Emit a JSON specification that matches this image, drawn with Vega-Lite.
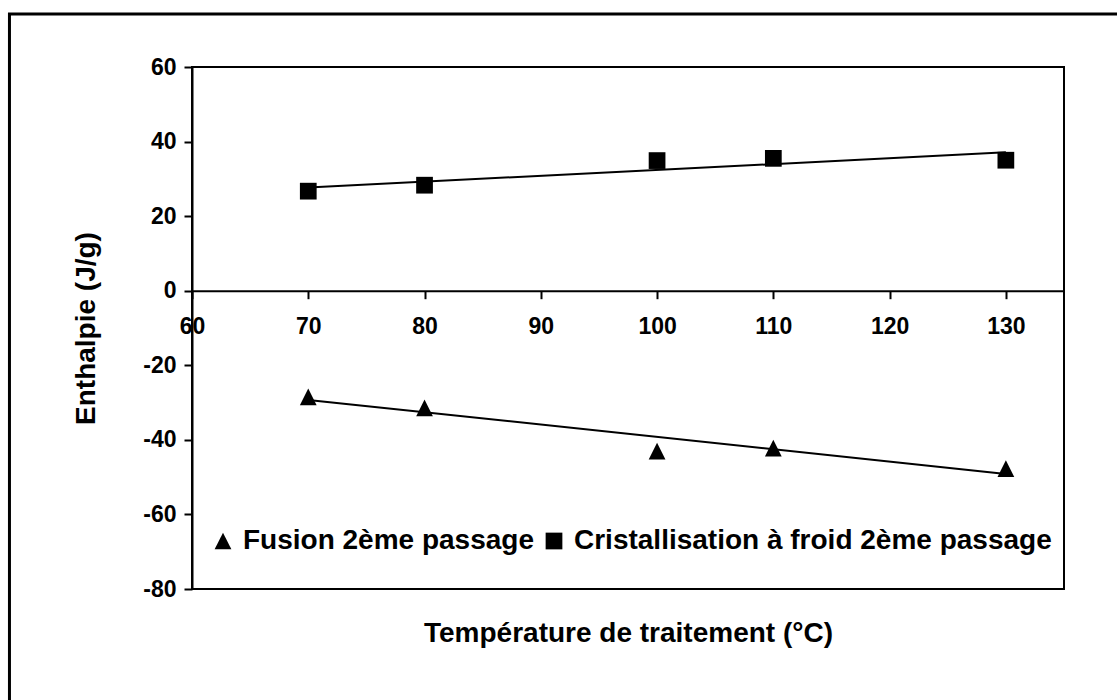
{
  "$schema": "https://vega.github.io/schema/vega-lite/v6.json",
  "width": 872,
  "height": 522,
  "autosize": "none",
  "padding": {"left": 192, "top": 67, "right": 53, "bottom": 111},
  "background": "white",
  "config": {
    "view": {"stroke": "black", "strokeWidth": 2},
    "font": "Liberation Sans",
    "axis": {"grid": false}
  },
  "data": {
    "values": [
      {"temp": 70, "enthalpie": -28.5, "serie": "Fusion 2ème passage"},
      {"temp": 80, "enthalpie": -31.4, "serie": "Fusion 2ème passage"},
      {"temp": 100, "enthalpie": -43.0, "serie": "Fusion 2ème passage"},
      {"temp": 110, "enthalpie": -42.2, "serie": "Fusion 2ème passage"},
      {"temp": 130, "enthalpie": -47.7, "serie": "Fusion 2ème passage"},
      {"temp": 70, "enthalpie": 26.7, "serie": "Cristallisation à froid 2ème passage"},
      {"temp": 80, "enthalpie": 28.3, "serie": "Cristallisation à froid 2ème passage"},
      {"temp": 100, "enthalpie": 34.9, "serie": "Cristallisation à froid 2ème passage"},
      {"temp": 110, "enthalpie": 35.5, "serie": "Cristallisation à froid 2ème passage"},
      {"temp": 130, "enthalpie": 35.0, "serie": "Cristallisation à froid 2ème passage"}
    ]
  },
  "resolve": {"axis": {"x": "independent"}},
  "layer": [
    {
      "data": {"values": [{}]},
      "mark": {"type": "rect", "clip": false, "fill": null, "stroke": "black", "strokeWidth": 3},
      "encoding": {
        "x": {"datum": 44.3, "type": "quantitative", "axis": null, "scale": {"domain": [60, 135], "nice": false, "zero": false}},
        "x2": {"datum": 150},
        "y": {
          "datum": 74.2, "type": "quantitative",
          "scale": {"domain": [-80, 60], "nice": false, "zero": false},
          "axis": {
            "title": "Enthalpie (J/g)",
            "values": [-80, -60, -40, -20, 0, 20, 40, 60],
            "labelExpr": "datum.value < 0 ? '-' + abs(datum.value) : '' + datum.value",
            "labelFontSize": 23, "labelFontWeight": "bold", "labelColor": "black",
            "labelFlush": false,
            "tickSize": 8, "tickWidth": 2, "tickColor": "black",
            "domainWidth": 2, "domainColor": "black",
            "labelPadding": 8,
            "titleFontSize": 28, "titleFontWeight": "bold", "titleColor": "black",
            "titlePadding": 42
          }
        },
        "y2": {"datum": -150}
      }
    },
    {
      "transform": [{"regression": "enthalpie", "on": "temp", "groupby": ["serie"], "method": "linear"}],
      "mark": {"type": "line", "color": "black", "strokeWidth": 2},
      "encoding": {
        "x": {
          "field": "temp", "type": "quantitative",
          "axis": {
            "orient": "bottom",
            "title": "Température de traitement (°C)",
            "labels": false, "ticks": false, "domain": false,
            "titleFontSize": 28, "titleFontWeight": "bold", "titleColor": "black",
            "titlePadding": 30
          }
        },
        "y": {"field": "enthalpie", "type": "quantitative"},
        "detail": {"field": "serie"}
      }
    },
    {
      "mark": {"type": "point", "filled": true, "color": "black", "opacity": 1, "size": 280},
      "encoding": {
        "x": {
          "field": "temp", "type": "quantitative",
          "axis": {
            "orient": "bottom",
            "offset": -298.3,
            "title": null,
            "values": [60, 70, 80, 90, 100, 110, 120, 130],
            "labelFontSize": 23, "labelFontWeight": "bold", "labelColor": "black",
            "labelFlush": false,
            "tickSize": 8, "tickWidth": 2, "tickColor": "black",
            "domainWidth": 2, "domainColor": "black",
            "labelPadding": 17
          }
        },
        "y": {"field": "enthalpie", "type": "quantitative"},
        "shape": {
          "field": "serie", "type": "nominal",
          "scale": {"domain": ["Fusion 2ème passage", "Cristallisation à froid 2ème passage"], "range": ["M0,-1L1,1L-1,1Z", "square"]},
          "legend": {
            "orient": "none",
            "legendX": 17,
            "legendY": 460,
            "direction": "horizontal",
            "title": null,
            "labelFontSize": 28, "labelFontWeight": "bold", "labelColor": "black",
            "labelLimit": 600,
            "symbolSize": 280, "symbolFillColor": "black", "symbolStrokeColor": "black",
            "labelOffset": 6,
            "columnPadding": 5
          }
        }
      }
    }
  ]
}
